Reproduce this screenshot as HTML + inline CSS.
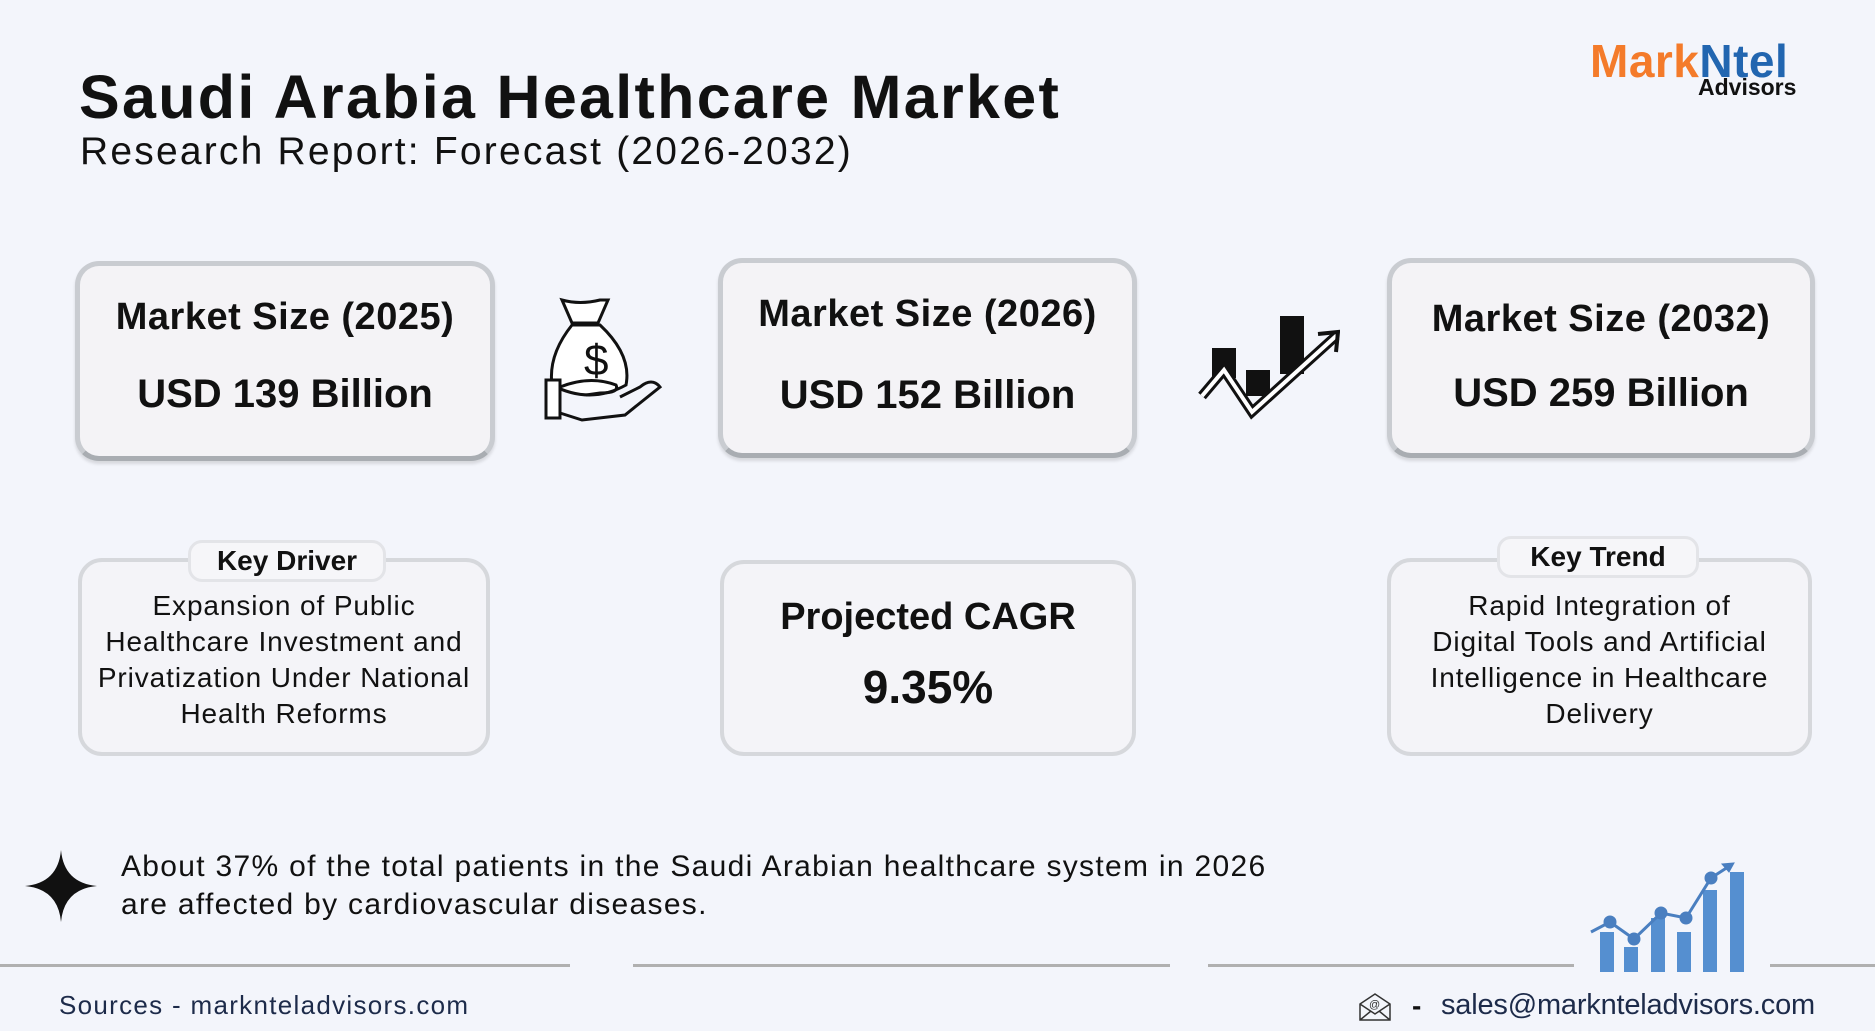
<!DOCTYPE html>
<html><head><meta charset="utf-8"><style>
body{margin:0;width:1875px;height:1031px;background:#f3f5fb;position:relative;overflow:hidden;font-family:"Liberation Sans",sans-serif;color:#111}
.a{position:absolute;white-space:nowrap}
.box{position:absolute;box-sizing:border-box;background:#f4f3f6;border:5px solid #c9ccd1;border-bottom-color:#a9adb2;border-radius:24px;box-shadow:0 3px 3px rgba(0,0,0,0.12)}
.sm{position:absolute;box-sizing:border-box;background:#f4f4f8;border:4px solid #d6d8dc;border-radius:24px}
.c{text-align:center;width:100%;position:absolute;left:0}
.pill{position:absolute;background:#f6f6f9;border:3px solid #e3e4e8;border-radius:14px;font-weight:bold;font-size:28px;text-align:center;line-height:36px}
.line{position:absolute;height:3px;background:#b0b0b0;top:964px}
.bt{font-size:28px;line-height:36px;letter-spacing:0.9px}
</style></head><body>
<div class="a" style="left:79px;top:62px;font-size:61px;font-weight:bold;letter-spacing:2.3px">Saudi Arabia Healthcare Market</div>
<div class="a" style="left:80px;top:130px;font-size:39px;letter-spacing:2.2px">Research Report: Forecast (2026-2032)</div>
<div class="a" style="left:1590px;top:34px;font-size:46px;font-weight:bold;letter-spacing:0.5px"><span style="color:#f47b2a">Mark</span><span style="color:#2266b0">Ntel</span></div>
<div class="a" style="left:1698px;top:74px;font-size:23px;font-weight:bold">Advisors</div>

<div class="box" style="left:75px;top:261px;width:420px;height:200px">
<div class="c" style="top:30px;font-size:38px;font-weight:bold;letter-spacing:0.5px">Market Size (2025)</div>
<div class="c" style="top:106px;font-size:40px;font-weight:bold">USD 139 Billion</div></div>
<div class="box" style="left:718px;top:258px;width:419px;height:200px">
<div class="c" style="top:30px;font-size:38px;font-weight:bold;letter-spacing:0.5px">Market Size (2026)</div>
<div class="c" style="top:110px;font-size:40px;font-weight:bold">USD 152 Billion</div></div>
<div class="box" style="left:1387px;top:258px;width:428px;height:200px">
<div class="c" style="top:35px;font-size:38px;font-weight:bold;letter-spacing:0.5px">Market Size (2032)</div>
<div class="c" style="top:108px;font-size:40px;font-weight:bold">USD 259 Billion</div></div>

<svg class="a" style="left:540px;top:295px" width="130" height="135" viewBox="0 0 130 135" fill="none" stroke="#111" stroke-width="3">
<path d="M22 5 Q40 10 60 5 L68 5 L58 28 L32 28 Z" fill="#fff"/>
<path d="M32 30 Q8 60 12 90 Q50 110 86 90 Q92 60 60 30 Z" fill="#fff"/>
<text x="44" y="80" font-size="44" fill="#111" stroke="none" font-family="Liberation Sans">$</text>
<rect x="6" y="85" width="14" height="38" fill="#fff"/>
<path d="M20 92 Q50 80 76 90 Q80 98 60 98 L46 100 M20 118 L42 125 L85 120 L120 92 Q112 82 100 92 L80 102"/>
</svg>
<svg class="a" style="left:1198px;top:312px" width="142" height="108" viewBox="0 0 142 108">
<rect x="14" y="36" width="24" height="30" fill="#111"/>
<rect x="48" y="58" width="24" height="26" fill="#111"/>
<rect x="82" y="4" width="24" height="58" fill="#111"/>
<path d="M4 84 L26 58 L54 100 L138 24" fill="none" stroke="#111" stroke-width="10"/>
<path d="M4 84 L26 58 L54 100 L138 24" fill="none" stroke="#fff" stroke-width="4"/>
<path d="M120 22 L140 20 L138 40" fill="none" stroke="#111" stroke-width="4"/>
</svg>

<div class="sm" style="left:78px;top:558px;width:412px;height:198px">
<div class="c bt" style="top:26px">Expansion of Public<br>Healthcare Investment and<br>Privatization Under National<br>Health Reforms</div></div>
<div class="pill" style="left:188px;top:540px;width:192px;height:36px">Key Driver</div>
<div class="sm" style="left:720px;top:560px;width:416px;height:196px">
<div class="c" style="top:32px;font-size:38px;font-weight:bold">Projected CAGR</div>
<div class="c" style="top:96px;font-size:46px;font-weight:bold">9.35%</div></div>
<div class="sm" style="left:1387px;top:558px;width:425px;height:198px">
<div class="c bt" style="top:26px">Rapid Integration of<br>Digital Tools and Artificial<br>Intelligence in Healthcare<br>Delivery</div></div>
<div class="pill" style="left:1497px;top:536px;width:196px;height:36px">Key Trend</div>

<svg class="a" style="left:25px;top:850px" width="72" height="72" viewBox="0 0 72 72"><path d="M36 0 Q39 33 72 36 Q39 39 36 72 Q33 39 0 36 Q33 33 36 0Z" fill="#111"/></svg>
<div class="a" style="left:121px;top:848px;font-size:30px;line-height:38px;letter-spacing:1.3px">About 37% of the total patients in the Saudi Arabian healthcare system in 2026<br>are affected by cardiovascular diseases.</div>

<div class="line" style="left:0;width:570px"></div>
<div class="line" style="left:633px;width:537px"></div>
<div class="line" style="left:1208px;width:366px"></div>
<div class="line" style="left:1770px;width:105px"></div>

<svg class="a" style="left:1580px;top:855px" width="170" height="120" viewBox="1580 855 170 120">
<g fill="#558fd0"><rect x="1600" y="932" width="14" height="40"/><rect x="1624" y="947" width="14" height="25"/><rect x="1651" y="918" width="14" height="54"/><rect x="1677" y="932" width="14" height="40"/><rect x="1703" y="890" width="14" height="82"/><rect x="1730" y="872" width="14" height="100"/></g>
<g fill="#4a7fc0" stroke="#4a7fc0"><polyline points="1591,932 1610,922 1634,939 1661,913 1686,918 1711,878 1728,867" fill="none" stroke-width="3"/>
<circle cx="1610" cy="922" r="6"/><circle cx="1634" cy="939" r="6"/><circle cx="1661" cy="913" r="6"/><circle cx="1686" cy="918" r="6"/><circle cx="1711" cy="878" r="6"/><path d="M1722 864 L1734 863 L1729 872Z"/></g>
</svg>

<div class="a" style="left:59px;top:990px;font-size:26px;color:#1d2b4a;letter-spacing:1.3px">Sources - marknteladvisors.com</div>
<svg class="a" style="left:1357px;top:992px" width="36" height="30" viewBox="0 0 34 30" fill="none" stroke="#333" stroke-width="1.5"><path d="M2 12 L17 2 L32 12 L32 28 L2 28Z M2 12 L17 22 L32 12 M2 28 L13 19 M32 28 L21 19"/><text x="11" y="16" font-size="11" fill="#333" stroke="none">@</text></svg>
<div class="a" style="left:1412px;top:990px;font-size:28px;font-weight:bold">-</div>
<div class="a" style="left:1441px;top:989px;font-size:29px;color:#1d2b4a;letter-spacing:-0.2px">sales@marknteladvisors.com</div>
</body></html>
